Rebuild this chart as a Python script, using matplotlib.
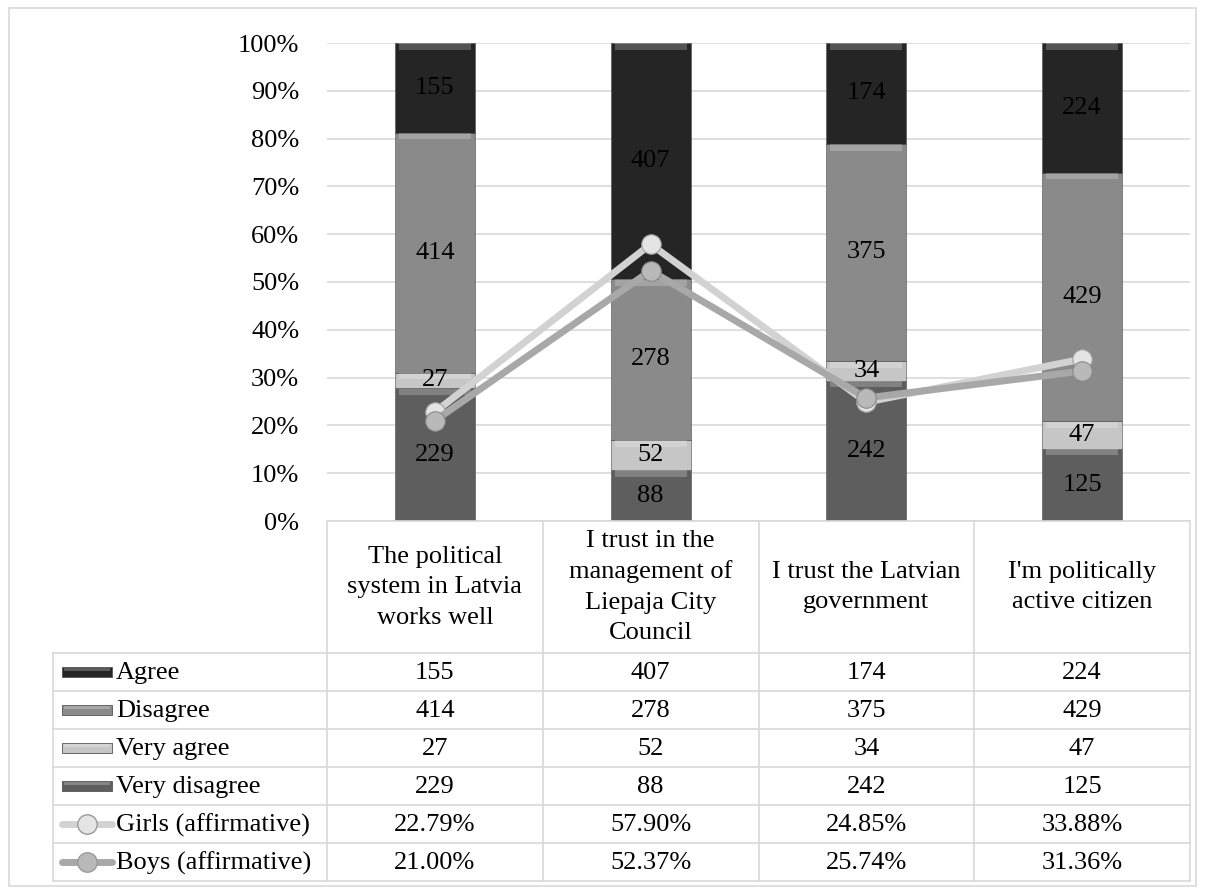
import matplotlib
matplotlib.use("Agg")
import matplotlib.pyplot as plt
import numpy as np
from matplotlib.patches import Rectangle

categories = ["The political\nsystem in Latvia\nworks well",
              "I trust in the\nmanagement of\nLiepaja City\nCouncil",
              "I trust the Latvian\ngovernment",
              "I'm politically\nactive citizen"]
agree = [155, 407, 174, 224]
disagree = [414, 278, 375, 429]
very_agree = [27, 52, 34, 47]
very_disagree = [229, 88, 242, 125]
girls = [22.79, 57.90, 24.85, 33.88]
boys = [21.00, 52.37, 25.74, 31.36]
yticks = [0, 10, 20, 30, 40, 50, 60, 70, 80, 90, 100]

plt.rcParams['font.family'] = ['Liberation Serif', 'DejaVu Serif']
FS = 19
W, H = 1205, 889
fig = plt.figure(figsize=(W/100, H/100), dpi=100)

x0, x1 = 327, 1190
ytop, ybot = 43, 521
ax = fig.add_axes([x0/W, 1-ybot/H, (x1-x0)/W, (ybot-ytop)/H])

c_agree, c_dis, c_va, c_vd = "#252525", "#8a8a8a", "#c6c6c6", "#5e5e5e"
stack = [("Very disagree", very_disagree, c_vd),
         ("Very agree", very_agree, c_va),
         ("Disagree", disagree, c_dis),
         ("Agree", agree, c_agree)]
totals = np.array(agree) + np.array(disagree) + np.array(very_agree) + np.array(very_disagree)
xs = np.arange(len(categories))
bw = 0.37
bottom = np.zeros(len(categories))
for name, vals, col in stack:
    pct = np.array(vals) / totals * 100
    ax.bar(xs, pct, bw, bottom=bottom, color=col, edgecolor="#4a4a4a", linewidth=0.4, zorder=2)
    hl = np.minimum(pct * 0.4, 1.3)
    ax.bar(xs, hl, bw * 0.9, bottom=bottom + pct - hl - 0.1,
           color="white", alpha=0.22, linewidth=0, zorder=2.5)
    for i in range(len(xs)):
        ax.text(xs[i], bottom[i] + pct[i]/2, str(vals[i]), ha="center", va="center",
                fontsize=FS, color="black", zorder=3)
    bottom += pct

ax.plot(xs, girls, color="#d2d2d2", lw=5, zorder=4, solid_capstyle="round",
        marker="o", markersize=14, markerfacecolor="#e4e4e4", markeredgecolor="#a0a0a0", markeredgewidth=0.8)
ax.plot(xs, boys, color="#a8a8a8", lw=5, zorder=5, solid_capstyle="round",
        marker="o", markersize=14, markerfacecolor="#b9b9b9", markeredgecolor="#8a8a8a", markeredgewidth=0.8)

ax.set_xlim(-0.5, 3.5)
ax.set_ylim(0, 100)
ax.set_yticks(yticks)
ax.set_yticklabels([f"{t}%" for t in yticks], fontsize=FS)
ax.set_xticks([])
ax.tick_params(axis="y", length=0, pad=20)
ax.grid(axis="y", color="#d9d9d9", lw=1.2, zorder=0)
for s in ["top", "right", "left"]:
    ax.spines[s].set_visible(False)
ax.spines["bottom"].set_color("#d9d9d9")
ax.spines["bottom"].set_linewidth(1.2)
ax.set_facecolor("none")

# Table overlay in pixel coordinates
tx = fig.add_axes([0, 0, 1, 1], zorder=-1)
tx.set_xlim(0, W)
tx.set_ylim(H, 0)
tx.axis("off")
lc = "#d9d9d9"
tx.add_patch(Rectangle((9, 8), 1187, 878, fill=False, edgecolor=lc, lw=1.2))
colw = (x1 - x0) / 4
hdr_bot = 653
rowh = 38
nrows = 6
tbl_bot = hdr_bot + rowh * nrows
for j in range(5):
    xv = x0 + colw * j
    tx.plot([xv, xv], [ybot, tbl_bot], color=lc, lw=1.2)
tx.plot([53, 53], [hdr_bot, tbl_bot], color=lc, lw=1.2)
for r in range(nrows + 1):
    yy = hdr_bot + rowh * r
    tx.plot([53, x1], [yy, yy], color=lc, lw=1.2)
for j, c in enumerate(categories):
    tx.text(x0 + colw * (j + 0.5), 587, c, ha="center", va="center",
            fontsize=FS, linespacing=1.5, multialignment="center")

row_names = ["Agree", "Disagree", "Very agree", "Very disagree", "Girls (affirmative)", "Boys (affirmative)"]
row_vals = [[str(v) for v in agree], [str(v) for v in disagree], [str(v) for v in very_agree],
            [str(v) for v in very_disagree], [f"{v:.2f}%" for v in girls], [f"{v:.2f}%" for v in boys]]
swatch = [c_agree, c_dis, c_va, c_vd]
for r in range(nrows):
    yc = hdr_bot + rowh * (r + 0.5)
    if r < 4:
        tx.add_patch(Rectangle((62, yc - 5), 50, 10, facecolor=swatch[r], edgecolor="#555555", lw=0.6))
        tx.add_patch(Rectangle((64, yc - 4), 46, 3, facecolor="white", alpha=0.25, lw=0))
    else:
        lcol = "#d2d2d2" if r == 4 else "#a8a8a8"
        mfc = "#e4e4e4" if r == 4 else "#b9b9b9"
        tx.plot([62, 112], [yc, yc], color=lcol, lw=5, solid_capstyle="round")
        tx.plot([87], [yc], marker="o", markersize=14, markerfacecolor=mfc, markeredgecolor="#9a9a9a", lw=0)
    tx.text(116, yc + 1, row_names[r], ha="left", va="center", fontsize=FS)
    for j in range(4):
        tx.text(x0 + colw * (j + 0.5), yc + 1, row_vals[r][j], ha="center", va="center", fontsize=FS)

fig.savefig("out.png", dpi=100)
